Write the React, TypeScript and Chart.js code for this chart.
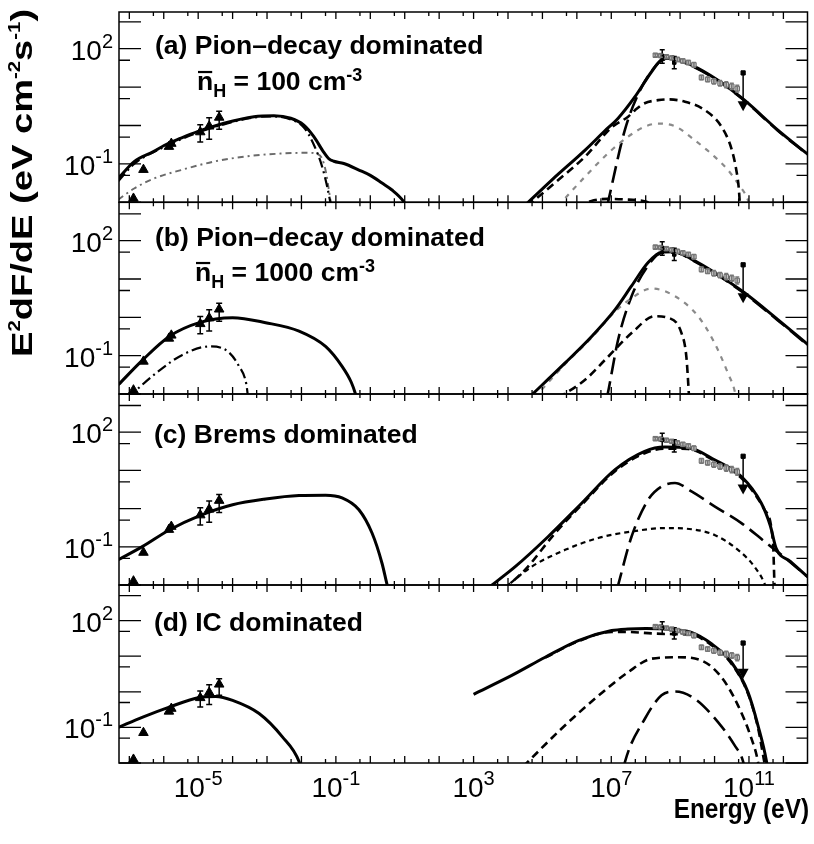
import React, { useEffect, useRef } from 'react';
import { Chart, registerables } from 'chart.js';

Chart.register(...registerables);

const W = 814;
const H = 844;
const FONT = '"Liberation Sans", Arial, Helvetica, sans-serif';

// ---------- axes ----------
const X_MIN_EXP = -7.3;
const X_MAX_EXP = 12.7;
const xLabelExps = [-5, -1, 3, 7, 11];
const yLabelExps = [2, -1];

// ---------- measured points: log10(E / eV), log10(E^2 dF/dE) ----------
const radioLogE = [-6.88, -6.59, -5.85, -5.78, -4.94, -4.68, -4.39];
const radioLogF = [-1.9, -1.15, -0.55, -0.47, -0.17, -0.02, 0.21];
const radioLogLo = [null, null, null, null, -0.43, -0.36, -0.1];
const radioLogHi = [null, null, null, null, 0.02, 0.2, 0.37];

const fermiLogE = [8.28, 8.44, 8.6, 8.76, 8.92, 9.08, 9.24, 9.4, 9.62, 9.8, 9.98, 10.16, 10.34, 10.5, 10.66];
const fermiLogF = [1.83, 1.82, 1.79, 1.76, 1.72, 1.68, 1.64, 1.58, 1.25, 1.2, 1.15, 1.1, 1.06, 1.02, 0.96];
const fermiLogErr = [0.04, 0.04, 0.04, 0.04, 0.05, 0.05, 0.05, 0.06, 0.06, 0.06, 0.07, 0.07, 0.08, 0.08, 0.09];

const agileLogE = [8.48, 8.83];
const agileLogF = [1.8, 1.64];
const agileLogLo = [1.62, 1.48];
const agileLogHi = [1.97, 1.8];

const ulLogE = [10.83];
const ulLogF = [1.37];
const ulLogTip = [0.37];

// ---------- model curves: [log10 E, log10 flux] ----------
// (a) pion-decay dominated, n = 100
const aLowTotal = [[-7.32,-1.38],[-6.86,-0.94],[-6.3,-0.68],[-5.99,-0.52],[-5.5,-0.33],[-5.02,-0.16],[-4.25,0.06],[-3.38,0.23],[-2.8,0.255],[-2.31,0.19],[-1.93,0.01],[-1.64,-0.29],[-1.35,-0.7],[-1.2,-0.87],[-1.06,-0.93],[-0.77,-0.99],[-0.33,-1.16],[0.0,-1.3],[0.34,-1.5],[0.63,-1.68],[0.97,-1.98],[1.05,-2.1]];
const aLowPrimary = [[-7.32,-1.45],[-6.86,-1.0],[-5.99,-0.56],[-5.02,-0.19],[-4.25,0.03],[-3.38,0.21],[-2.8,0.235],[-2.31,0.16],[-1.93,-0.05],[-1.64,-0.5],[-1.4,-1.07],[-1.25,-1.6],[-1.15,-2.05]];
const aLowSecondary = [[-7.32,-1.93],[-6.86,-1.64],[-6.28,-1.38],[-5.5,-1.16],[-4.54,-0.94],[-3.57,-0.8],[-2.6,-0.73],[-1.83,-0.71],[-1.55,-0.74],[-1.4,-0.86],[-1.28,-1.25],[-1.2,-1.7],[-1.14,-2.05]];
const aHighTotal = [[4.47,-2.1],[5.27,-1.42],[6.24,-0.64],[6.8,-0.15],[7.2,0.19],[7.69,0.75],[8.17,1.4],[8.46,1.71],[8.75,1.75],[9.33,1.575],[10.1,1.18],[10.87,0.66],[11.84,-0.12],[12.75,-0.78]];
const aHighBrems = [[4.56,-2.1],[5.46,-1.42],[6.24,-0.81],[7.01,-0.05],[7.49,0.23],[7.69,0.4],[7.97,0.58],[8.36,0.66],[8.65,0.68],[9.14,0.62],[9.72,0.4],[10.2,-0.03],[10.49,-0.6],[10.62,-1.1],[10.7,-1.6],[10.74,-2.1]];
const aHighIC = [[5.45,-2.1],[6.24,-1.33],[6.91,-0.72],[7.49,-0.29],[7.97,-0.03],[8.36,0.05],[8.85,-0.02],[9.42,-0.38],[10.0,-0.81],[10.39,-1.16],[10.68,-1.51],[10.97,-1.94],[11.02,-2.1]];
const aHighPion = [[6.88,-2.1],[6.91,-1.98],[7.4,-0.1],[7.8,0.85],[8.2,1.45],[8.46,1.69],[8.75,1.73],[9.33,1.555],[10.1,1.165],[10.87,0.645],[11.84,-0.135],[12.75,-0.79]];
const aHighBump = [[6.0,-2.1],[6.4,-1.97],[6.9,-1.91],[7.5,-1.93],[8.0,-1.98],[8.3,-2.1]];

// (b) pion-decay dominated, n = 1000
const bLowTotal = [[-7.32,-1.76],[-6.61,-1.11],[-5.84,-0.5],[-4.97,-0.14],[-4.0,-0.01],[-3.04,-0.14],[-2.07,-0.36],[-1.3,-0.76],[-0.82,-1.28],[-0.55,-1.7],[-0.43,-2.0],[-0.4,-2.1]];
const bLowSecondary = [[-7.05,-2.1],[-6.23,-1.46],[-5.46,-0.98],[-4.68,-0.76],[-4.2,-0.85],[-3.81,-1.28],[-3.6,-1.75],[-3.55,-2.1]];
const bHighTotal = [[4.6,-2.1],[5.66,-1.19],[6.43,-0.5],[7.11,0.2],[7.59,0.82],[8.07,1.43],[8.46,1.7],[8.85,1.71],[9.33,1.52],[10.0,1.17],[10.87,0.64],[11.84,-0.06],[12.75,-0.74]];
const bHighIC = [[4.76,-2.1],[5.66,-1.22],[6.43,-0.53],[7.11,0.15],[7.59,0.5],[8.17,0.75],[8.85,0.55],[9.52,0.03],[10.0,-0.67],[10.39,-1.46],[10.59,-1.94],[10.62,-2.1]];
const bHighBrems = [[5.46,-2.1],[6.24,-1.63],[6.82,-1.11],[7.59,-0.41],[8.27,0.03],[8.65,-0.01],[9.04,-0.41],[9.18,-1.02],[9.25,-1.94],[9.26,-2.1]];
const bHighPion = [[6.87,-2.1],[6.9,-1.98],[7.2,-0.58],[7.59,0.55],[8.07,1.35],[8.46,1.68],[8.85,1.69],[9.33,1.5],[10.0,1.15],[10.87,0.62],[11.84,-0.08],[12.75,-0.76]];

// (c) brems dominated
const cLowTotal = [[-7.32,-1.34],[-6.61,-0.99],[-5.84,-0.56],[-4.97,-0.19],[-4.0,0.1],[-3.04,0.25],[-2.07,0.34],[-1.3,0.35],[-0.82,0.28],[-0.33,-0.03],[0.05,-0.64],[0.34,-1.43],[0.49,-2.0],[0.52,-2.1]];
const cHighTotal = [[3.39,-2.1],[4.21,-1.52],[5.17,-0.73],[6.14,0.14],[7.11,1.02],[7.97,1.5],[8.55,1.61],[9.23,1.59],[10.0,1.28],[10.78,0.84],[11.36,0.14],[11.62,-0.45],[11.79,-1.04],[12.2,-1.38],[12.75,-1.82]];
const cHighBrems = [[3.89,-2.1],[4.5,-1.6],[5.37,-0.64],[6.14,0.1],[7.11,0.98],[7.97,1.45],[8.55,1.57],[9.23,1.56],[10.0,1.25],[10.78,0.8],[11.45,-0.03],[11.7,-0.91],[11.74,-1.96],[11.75,-2.1]];
const cHighPion = [[7.17,-2.1],[7.2,-2.0],[7.59,-0.73],[8.07,0.23],[8.46,0.58],[8.85,0.67],[9.33,0.45],[10.0,0.06],[10.78,-0.38],[11.45,-0.86],[11.94,-1.21],[12.75,-1.82]];
const cHighIC = [[3.87,-2.1],[4.69,-1.52],[5.66,-1.08],[6.62,-0.77],[7.59,-0.6],[8.55,-0.51],[9.33,-0.54],[10.0,-0.69],[10.68,-1.08],[11.16,-1.52],[11.45,-1.96],[11.5,-2.1]];

// (d) IC dominated
const dLowTotal = [[-7.32,-1.0],[-6.61,-0.71],[-5.84,-0.43],[-4.97,-0.16],[-4.49,-0.13],[-4.0,-0.24],[-3.23,-0.61],[-2.56,-1.26],[-2.07,-1.96],[-2.03,-2.1]];
const dHighTotal = [[3.0,-0.07],[4.11,0.46],[5.08,0.97],[6.04,1.44],[7.01,1.72],[7.49,1.765],[8.0,1.78],[8.46,1.77],[9.33,1.67],[9.91,1.35],[10.49,0.83],[10.97,-0.01],[11.26,-0.94],[11.51,-1.96],[11.53,-2.1]];
const dHighIC1 = [[5.08,0.96],[6.04,1.42],[7.01,1.68],[7.49,1.68],[8.17,1.64],[8.8,1.62],[9.33,1.6],[9.91,1.31],[10.49,0.79],[10.97,-0.05],[11.26,-1.0],[11.45,-2.0],[11.47,-2.1]];
const dHighIC2 = [[4.44,-2.1],[5.56,-1.03],[6.53,-0.19],[7.49,0.55],[8.17,0.93],[8.94,0.97],[9.62,0.88],[10.2,0.41],[10.68,-0.38],[11.07,-1.31],[11.26,-1.96],[11.28,-2.1]];
const dHighPion = [[7.37,-2.1],[7.4,-1.96],[7.98,-0.75],[8.46,-0.1],[8.85,0.01],[9.42,-0.19],[10.1,-0.85],[10.58,-1.5],[10.83,-1.96],[10.86,-2.1]];

// ---------- line styles ----------
const SOLID = { borderColor: '#000', borderWidth: 3, borderDash: [] };
const SHORT = { borderColor: '#000', borderWidth: 2.6, borderDash: [8, 5] };
const LONG = { borderColor: '#000', borderWidth: 2.6, borderDash: [17, 7] };
const GREY = { borderColor: '#8a8a8a', borderWidth: 2.2, borderDash: [5, 6] };
const DOT = { borderColor: '#000', borderWidth: 2.2, borderDash: [5, 4] };
const DASHDOT = { borderColor: '#000', borderWidth: 2.2, borderDash: [10, 4, 2, 4] };
const GREYDASHDOT = { borderColor: '#6a6a6a', borderWidth: 1.9, borderDash: [6, 4, 2, 4] };

// ---------- helpers ----------
const pow10 = (v) => (v == null ? null : Math.pow(10, v));
const makePoints = (logE, logF) => logE.map((e, i) => ({ x: pow10(e), y: pow10(logF[i]) }));
const curvePts = (pairs) => pairs.map(([e, f]) => ({ x: pow10(e), y: pow10(f) }));

function curveDs(pairs, style) {
  return {
    data: curvePts(pairs),
    showLine: true,
    pointRadius: 0,
    fill: false,
    backgroundColor: 'transparent',
    cubicInterpolationMode: 'monotone',
    capBezierPoints: false,
    clip: 0,
    ...style,
  };
}

function pointDatasets() {
  return [
    {
      data: makePoints(ulLogE, ulLogF), showLine: false, pointStyle: 'rect', pointRadius: 3,
      backgroundColor: '#000', borderColor: '#000', ulTip: ulLogTip.map(pow10), clip: false,
    },
    {
      data: makePoints(agileLogE, agileLogF), showLine: false, pointStyle: 'rect', pointRadius: 2.5,
      backgroundColor: '#000', borderColor: '#000', errLo: agileLogLo.map(pow10), errHi: agileLogHi.map(pow10),
      errColor: '#000', capW: 5, clip: false,
    },
    {
      data: makePoints(fermiLogE, fermiLogF), showLine: false, pointStyle: 'rect', pointRadius: 3.2,
      backgroundColor: '#c4c4c4', borderColor: '#6a6a6a', borderWidth: 1,
      errLo: fermiLogF.map((f, i) => pow10(f - fermiLogErr[i])), errHi: fermiLogF.map((f, i) => pow10(f + fermiLogErr[i])),
      errColor: '#777', capW: 4, clip: false,
    },
    {
      data: makePoints(radioLogE, radioLogF), showLine: false, pointStyle: 'triangle', pointRadius: 5.5,
      backgroundColor: '#000', borderColor: '#000', errLo: radioLogLo.map(pow10), errHi: radioLogHi.map(pow10),
      errColor: '#000', capW: 6, clip: false,
    },
  ];
}

function setFont(ctx, size, bold) {
  ctx.font = `${bold ? 'bold ' : ''}${size}px ${FONT}`;
}

function drawRuns(ctx, x, y, runs, align = 'left') {
  let w = 0;
  for (const r of runs) { setFont(ctx, r.size, r.bold); w += ctx.measureText(r.t).width; }
  let cx = align === 'right' ? x - w : align === 'center' ? x - w / 2 : x;
  ctx.textAlign = 'left';
  ctx.textBaseline = 'alphabetic';
  for (const r of runs) {
    setFont(ctx, r.size, r.bold);
    const tw = ctx.measureText(r.t).width;
    const by = y + (r.dy || 0);
    ctx.fillText(r.t, cx, by);
    if (r.bar) ctx.fillRect(cx + 1, by - r.size * 0.72, tw - 2, 2.2);
    cx += tw;
  }
}

const errorBarPlugin = {
  id: 'errorBars',
  afterDatasetsDraw(chart) {
    const { ctx } = chart;
    const xs = chart.scales.x;
    const ys = chart.scales.y;
    chart.data.datasets.forEach((ds) => {
      if (ds.errLo) {
        ctx.save();
        ctx.strokeStyle = ds.errColor;
        ctx.lineWidth = 1.5;
        ctx.beginPath();
        ds.data.forEach((p, i) => {
          const lo = ds.errLo[i];
          const hi = ds.errHi[i];
          if (lo == null || hi == null) return;
          const px = xs.getPixelForValue(p.x);
          const p1 = ys.getPixelForValue(lo);
          const p2 = ys.getPixelForValue(hi);
          const c = ds.capW / 2;
          ctx.moveTo(px, p1); ctx.lineTo(px, p2);
          ctx.moveTo(px - c, p1); ctx.lineTo(px + c, p1);
          ctx.moveTo(px - c, p2); ctx.lineTo(px + c, p2);
        });
        ctx.stroke();
        ctx.restore();
      }
      if (ds.ulTip) {
        ctx.save();
        ctx.strokeStyle = '#000';
        ctx.fillStyle = '#000';
        ctx.lineWidth = 1.5;
        ds.data.forEach((p, i) => {
          const px = xs.getPixelForValue(p.x);
          const top = ys.getPixelForValue(p.y);
          const tip = ys.getPixelForValue(ds.ulTip[i]);
          ctx.beginPath();
          ctx.moveTo(px, top); ctx.lineTo(px, tip - 8);
          ctx.stroke();
          ctx.beginPath();
          ctx.moveTo(px - 5.5, tip - 10);
          ctx.lineTo(px + 5.5, tip - 10);
          ctx.lineTo(px, tip);
          ctx.closePath();
          ctx.fill();
        });
        ctx.restore();
      }
    });
  },
};

function makeDecor(cfg) {
  return {
    id: 'decor',
    afterDraw(chart) {
      const { ctx } = chart;
      const ca = chart.chartArea;
      const xs = chart.scales.x;
      const ys = chart.scales.y;
      ctx.save();
      ctx.strokeStyle = '#000';
      ctx.lineWidth = 1.5;
      ctx.strokeRect(ca.left, ca.top, ca.right - ca.left, ca.bottom - ca.top);

      ctx.lineWidth = 1.3;
      ctx.beginPath();
      for (let n = -8; n <= 13; n++) {
        for (const m of [1, 5]) {
          const lv = Math.log10(m) + n;
          if (lv <= X_MIN_EXP + 0.02 || lv >= X_MAX_EXP - 0.02) continue;
          const px = xs.getPixelForValue(m * Math.pow(10, n));
          const len = m === 1 ? 7 : 4;
          ctx.moveTo(px, ca.bottom); ctx.lineTo(px, ca.bottom - len);
          ctx.moveTo(px, ca.top); ctx.lineTo(px, ca.top + len);
        }
      }
      const yMinExp = Math.log10(ys.min);
      const yMaxExp = Math.log10(ys.max);
      for (let n = -3; n <= 3; n++) {
        for (const m of [1, 5]) {
          const lv = Math.log10(m) + n;
          if (lv < yMinExp - 0.01 || lv > yMaxExp + 0.01) continue;
          const py = ys.getPixelForValue(m * Math.pow(10, n));
          const len = m === 1 || n === 2 ? 22 : 11;
          ctx.moveTo(ca.left, py); ctx.lineTo(ca.left + len, py);
          ctx.moveTo(ca.right, py); ctx.lineTo(ca.right - len, py);
        }
      }
      ctx.stroke();

      ctx.fillStyle = '#000';
      for (const n of yLabelExps) {
        const py = ys.getPixelForValue(Math.pow(10, n));
        drawRuns(ctx, 113, py + 11, [{ t: '10', size: 28 }, { t: String(n), size: 20, dy: -12 }], 'right');
      }

      // panel title
      drawRuns(ctx, cfg.titleX, cfg.titleY, [{ t: cfg.title, size: 26.5, bold: true }]);
      if (cfg.density) {
        drawRuns(ctx, cfg.densX, cfg.densY, [
          { t: 'n', size: 26.5, bold: true, bar: true },
          { t: 'H', size: 18, bold: true, dy: 7 },
          { t: ` = ${cfg.density} cm`, size: 26.5, bold: true },
          { t: '-3', size: 18, bold: true, dy: -9 },
        ]);
      }

      if (cfg.yTitle) {
        ctx.save();
        ctx.translate(32, 357);
        ctx.rotate(-Math.PI / 2);
        ctx.scale(1.27, 1);
        drawRuns(ctx, 0, 0, [
          { t: 'E', size: 30, bold: true },
          { t: '2', size: 16, bold: true, dy: -12 },
          { t: 'dF/dE (eV cm', size: 30, bold: true },
          { t: '-2', size: 16, bold: true, dy: -12 },
          { t: 's', size: 30, bold: true },
          { t: '-1', size: 16, bold: true, dy: -12 },
          { t: ')', size: 30, bold: true },
        ]);
        ctx.restore();
      }

      if (cfg.xAxis) {
        for (const n of xLabelExps) {
          const px = xs.getPixelForValue(Math.pow(10, n));
          drawRuns(ctx, px, 797, [{ t: '10', size: 28 }, { t: String(n), size: 20, dy: -12 }], 'center');
        }
        ctx.save();
        ctx.translate(809, 818);
        ctx.scale(0.87, 1);
        drawRuns(ctx, 0, 0, [{ t: 'Energy (eV)', size: 28, bold: true }], 'right');
        ctx.restore();
      }
      ctx.restore();
    },
  };
}

const panels = [
  {
    key: 'a', top: 12, bottom: 202.3, yMax: Math.pow(10, 2.956),
    title: '(a) Pion\u2013decay dominated', titleX: 155, titleY: 54,
    density: '100', densX: 197, densY: 90, yTitle: true,
    curves: [
      [aLowTotal, SOLID], [aLowPrimary, DASHDOT], [aLowSecondary, GREYDASHDOT],
      [aHighTotal, SOLID], [aHighBrems, SHORT], [aHighIC, GREY], [aHighPion, LONG], [aHighBump, SHORT],
    ],
  },
  {
    key: 'b', top: 202.3, bottom: 394, yMax: 1000,
    title: '(b) Pion\u2013decay dominated', titleX: 155, titleY: 246,
    density: '1000', densX: 195, densY: 281,
    curves: [
      [bLowTotal, SOLID], [bLowSecondary, DASHDOT],
      [bHighTotal, SOLID], [bHighIC, GREY], [bHighBrems, SHORT], [bHighPion, LONG],
    ],
  },
  {
    key: 'c', top: 394, bottom: 585, yMax: 1000,
    title: '(c) Brems dominated', titleX: 154, titleY: 443,
    curves: [
      [cLowTotal, SOLID], [cHighTotal, SOLID], [cHighBrems, SHORT], [cHighPion, LONG], [cHighIC, DOT],
    ],
  },
  {
    key: 'd', top: 585, bottom: 763, yMax: 1000,
    title: '(d) IC dominated', titleX: 154, titleY: 631, xAxis: true,
    curves: [
      [dLowTotal, SOLID], [dHighTotal, SOLID], [dHighIC1, SHORT], [dHighIC2, SHORT], [dHighPion, LONG],
    ],
  },
];

function Panel({ cfg }) {
  const ref = useRef(null);
  useEffect(() => {
    const chart = new Chart(ref.current, {
      type: 'scatter',
      data: {
        datasets: [...pointDatasets(), ...cfg.curves.map(([pairs, style]) => curveDs(pairs, style))],
      },
      options: {
        responsive: false,
        animation: false,
        devicePixelRatio: 1,
        events: [],
        layout: { padding: { left: 119, right: W - 809.6, top: cfg.top, bottom: H - cfg.bottom } },
        scales: {
          x: { type: 'logarithmic', min: Math.pow(10, X_MIN_EXP), max: Math.pow(10, X_MAX_EXP), display: false },
          y: { type: 'logarithmic', min: 0.01, max: cfg.yMax, display: false },
        },
        plugins: { legend: { display: false }, tooltip: { enabled: false } },
      },
      plugins: [errorBarPlugin, makeDecor(cfg)],
    });
    return () => chart.destroy();
  }, [cfg]);
  return (
    <canvas
      ref={ref}
      width={W}
      height={H}
      style={{ position: 'absolute', left: 0, top: 0, width: W, height: H, pointerEvents: 'none' }}
    />
  );
}

export default function App() {
  return (
    <div style={{ position: 'absolute', left: 0, top: 0, width: W, height: H, background: '#fff', overflow: 'hidden' }}>
      {panels.map((p) => (
        <Panel key={p.key} cfg={p} />
      ))}
    </div>
  );
}
